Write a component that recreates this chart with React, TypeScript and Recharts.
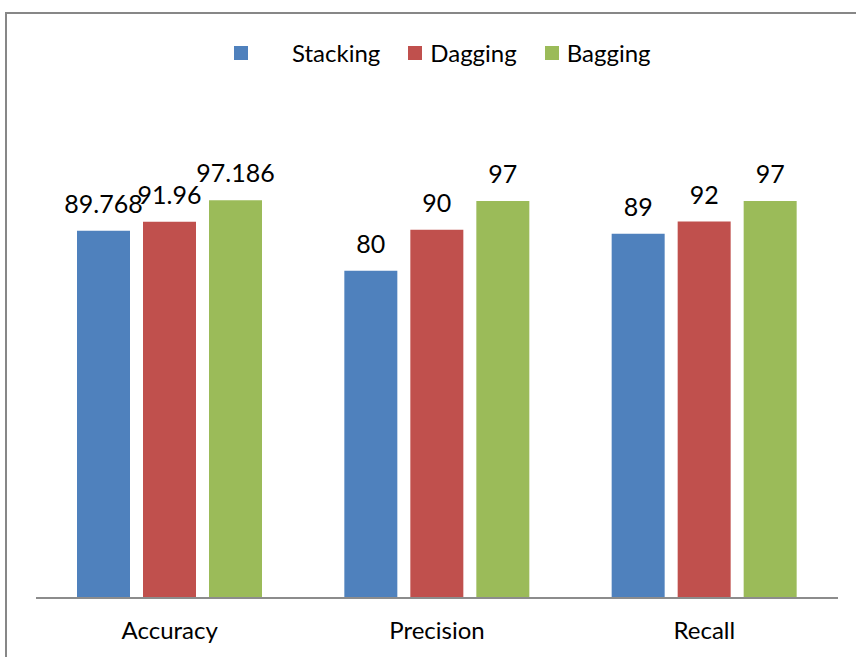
import { Bar, BarChart, LabelList, XAxis, YAxis } from "recharts";

const metrics = ["Accuracy", "Precision", "Recall"];
const stacking = [89.768, 80, 89];
const dagging = [91.96, 90, 92];
const bagging = [97.186, 97, 97];

const seriesNames = ["Stacking", "Dagging", "Bagging"];
const colors = ["#4F81BD", "#C0504D", "#9BBB59"];

const data = metrics.map((m, i) => ({
  name: m,
  Stacking: stacking[i],
  Dagging: dagging[i],
  Bagging: bagging[i],
}));

const font = "Lato, 'Open Sans', sans-serif";

function LegendRow() {
  return (
    <div
      style={{
        display: "flex",
        alignItems: "center",
        fontFamily: font,
        fontSize: 24,
        color: "#000",
        position: "absolute",
        left: 234,
        top: 38,
        lineHeight: "30px",
      }}
    >
      {seriesNames.map((s, i) => (
        <div key={s} style={{ display: "flex", alignItems: "center", marginRight: i === 2 ? 0 : 28 }}>
          <span
            style={{
              display: "inline-block",
              width: 14,
              height: 14,
              background: colors[i],
              marginRight: i === 0 ? 44 : 8,
            }}
          />
          <span>{s}</span>
        </div>
      ))}
    </div>
  );
}

export default function App() {
  return (
    <div
      style={{
        position: "absolute",
        left: 0,
        top: 0,
        width: 856,
        height: 657,
        overflow: "hidden",
        background: "#fff",
      }}
    >
      <div
        style={{
          position: "absolute",
          left: 5,
          top: 12,
          width: 851,
          height: 645,
          borderTop: "2px solid #878787",
          borderLeft: "2px solid #878787",
        }}
      />
      <LegendRow />
      <div style={{ position: "absolute", left: 0, top: 0 }}>
        <BarChart
          width={856}
          height={657}
          data={data}
          margin={{ top: 107, right: 18, left: 36, bottom: 29 }}
          barSize={53}
          barGap={13}
        >
          <XAxis
            dataKey="name"
            height={30}
            axisLine={{ stroke: "#8c8c8c", strokeWidth: 2 }}
            tickLine={false}
            tick={{ fill: "#000", fontSize: 24, fontFamily: font }}
            dy={16}
          />
          <YAxis hide domain={[0, 120]} />
          {seriesNames.map((s, i) => (
            <Bar key={s} dataKey={s} fill={colors[i]} isAnimationActive={false}>
              <LabelList
                dataKey={s}
                position="top"
                offset={18}
                fill="#000"
                fontSize={25}
                fontFamily={font}
              />
            </Bar>
          ))}
        </BarChart>
      </div>
    </div>
  );
}
